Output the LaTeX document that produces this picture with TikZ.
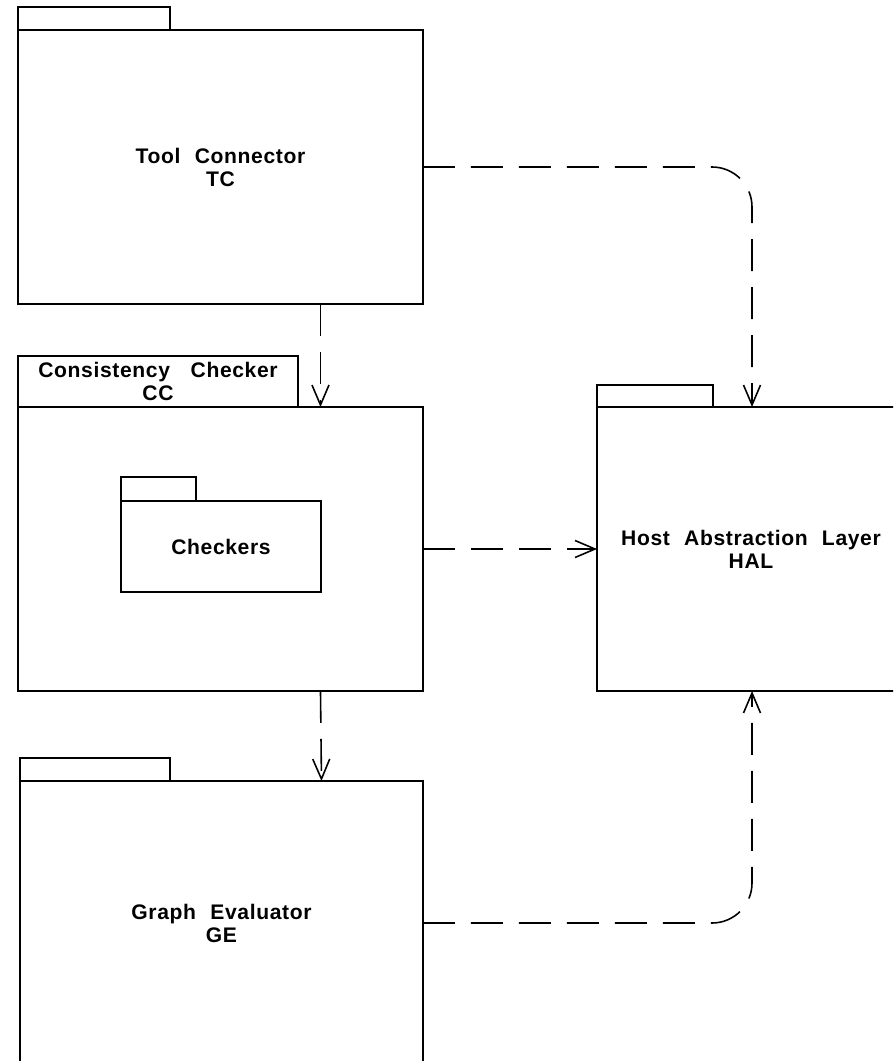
\documentclass[tikz,border=0pt]{standalone}
\usepackage{fontspec}
\setmainfont{Liberation Sans}[BoldFont={Liberation Sans Bold},LetterSpace=3,WordSpace=2.2]
\usetikzlibrary{arrows.meta}

\begin{document}
\begin{tikzpicture}[x=0.02cm,y=-0.02cm,
  pkg/.style={draw,line width=1.1pt,inner sep=0pt,outer sep=0pt,align=center,
    font=\fontsize{12}{13.1}\selectfont\bfseries},
  pkgtab/.style={draw,line width=0.8pt,inner sep=0pt,outer sep=0pt,anchor=south west,
    align=center,font=\fontsize{12}{13.1}\selectfont\bfseries},
  dep/.style={line width=0.9pt,dash pattern=on 0.64cm off 0.32cm,
    -{Straight Barb[length=0.4cm,width=0.34cm]}}]
  \useasboundingbox (0,0) rectangle (893,1061);
  \clip (0,0) rectangle (893,1061);
  % packages
  \node[pkg,minimum width=8.1cm,minimum height=5.48cm] (tc) at (220.5,167) {Tool Connector\\TC};
  \node[pkgtab,minimum width=3.04cm,minimum height=0.46cm] (tctab) at (tc.north west) {};
  \node[pkg,minimum width=8.1cm,minimum height=5.68cm] (cc) at (220.5,549) {};
  \node[pkgtab,minimum width=5.6cm,minimum height=1.02cm] (cctab) at (cc.north west) {Consistency\hspace{0.3em} Checker\\CC};
  \node[pkg,minimum width=4cm,minimum height=1.82cm] (chk) at (221,546.5) {Checkers};
  \node[pkgtab,minimum width=1.5cm,minimum height=0.48cm] (chktab) at (chk.north west) {};
  \node[pkg,minimum width=6.16cm,minimum height=5.68cm] (hal) at (751,549) {Host Abstraction Layer\\HAL};
  \node[pkgtab,minimum width=2.32cm,minimum height=0.44cm] (haltab) at (hal.north west) {};
  \node[pkg,minimum width=8.06cm,minimum height=5.68cm] (ge) at (221.5,923) {Graph Evaluator\\GE};
  \node[pkgtab,minimum width=3cm,minimum height=0.46cm] (getab) at (ge.north west) {};
  % dependencies
  \draw[dep] ([xshift=2cm]tc.south) -- ([xshift=2cm]cc.north);
  \draw[dep] ([xshift=2cm]cc.south) -- ([xshift=2cm]ge.north);
  \draw[dep] (cc.east) -- (hal.west);
  \draw[dep,rounded corners=0.8cm] (tc.east) -| ([xshift=0.02cm]hal.north);
  \draw[dep,rounded corners=0.8cm] (ge.east) -| ([xshift=0.02cm]hal.south);
\end{tikzpicture}
\end{document}
